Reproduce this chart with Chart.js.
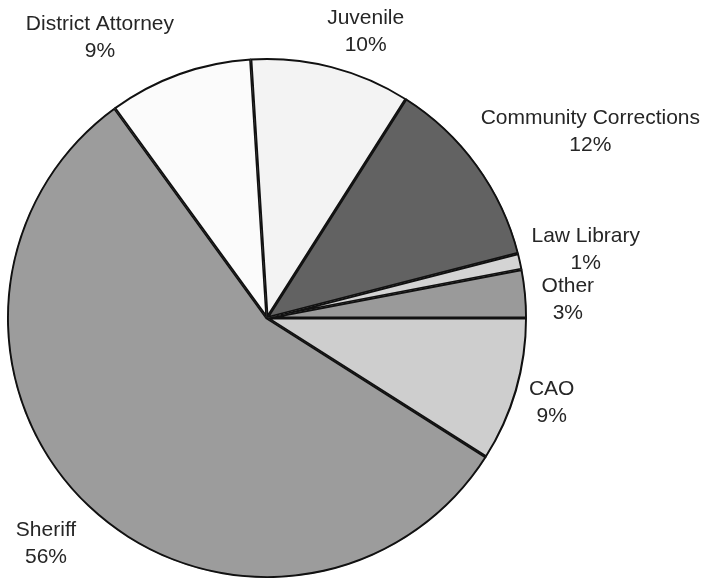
<!DOCTYPE html>
<html>
<head>
<meta charset="utf-8">
<script src="https://cdn.jsdelivr.net/npm/chart.js@4/dist/chart.umd.min.js"></script>
<style>
  html, body { margin: 0; padding: 0; background: #fff; }
  #wrap { width: 708px; height: 579px; }
</style>
</head>
<body>
<div id="wrap"><canvas id="pie" width="708" height="579"></canvas></div>
<script>
// Budget shares by department (percent), clockwise from 3 o'clock
const departments = ["CAO", "Sheriff", "District Attorney", "Juvenile", "Community Corrections", "Law Library", "Other"];
const shares      = [9, 56, 9, 10, 12, 1, 3];
const sliceColors = ["#cecece", "#9c9c9c", "#fbfbfb", "#f3f3f3", "#626262", "#d4d4d4", "#9a9a9a"];

// label offset from the slice's outer edge (at its mid angle), in px
const labelOffsets = [[35, 12], [-43, 36], [-79, -36], [34, -35], [113, -34], [65, -12], [42, 6]];

const outsideLabels = {
  id: "outsideLabels",
  afterDatasetsDraw(chart) {
    const ctx = chart.ctx;
    const arcs = chart.getDatasetMeta(0).data;
    ctx.save();
    ctx.font = "21px 'Liberation Sans', Arial, sans-serif";
    ctx.fillStyle = "#262626";
    ctx.textAlign = "center";
    ctx.textBaseline = "middle";
    arcs.forEach((arc, i) => {
      const mid = (arc.startAngle + arc.endAngle) / 2;
      const ex = arc.x + Math.cos(mid) * arc.outerRadius;
      const ey = arc.y + Math.sin(mid) * arc.outerRadius;
      const cx = ex + labelOffsets[i][0];
      const cy = ey + labelOffsets[i][1];
      ctx.fillText(departments[i], cx, cy - 13);
      ctx.fillText(shares[i] + "%", cx, cy + 14);
    });
    ctx.restore();
  }
};

new Chart(document.getElementById("pie"), {
  type: "pie",
  data: {
    labels: departments,
    datasets: [{
      data: shares,
      backgroundColor: sliceColors,
      borderColor: "#111",
      borderWidth: 1.6,
      borderAlign: "inner",
      radius: 260
    }]
  },
  options: {
    responsive: false,
    animation: false,
    rotation: 90,
    layout: { padding: { left: 0, right: 174, top: 57, bottom: 0 } },
    plugins: {
      legend: { display: false },
      tooltip: { enabled: false }
    }
  },
  plugins: [outsideLabels]
});
</script>
</body>
</html>
